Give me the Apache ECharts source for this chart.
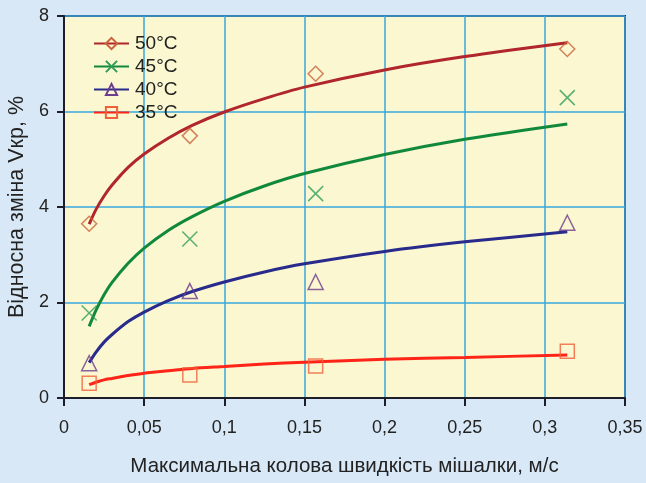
<!DOCTYPE html>
<html>
<head>
<meta charset="utf-8">
<script src="https://cdn.jsdelivr.net/npm/echarts@6/dist/echarts.min.js"></script>
<style>
  html, body { margin: 0; padding: 0; background: #d9e8f6; }
  #chart { width: 646px; height: 483px; }
</style>
</head>
<body>
<div id="chart"></div>
<script>
// measured points
const speeds = [0.0157, 0.0785, 0.157, 0.314]
const points50 = [3.65, 5.49, 6.79, 7.31]
const points45 = [1.78, 3.33, 4.28, 6.29]
const points40 = [0.73, 2.24, 2.43, 3.67]
const points35 = [0.31, 0.48, 0.67, 0.98]

// trend curves
const curveX = [0.0157, 0.02, 0.025, 0.03, 0.04, 0.05, 0.065, 0.08, 0.1, 0.125, 0.15, 0.2, 0.25, 0.314]
const curve50 = [3.64, 3.95, 4.23, 4.46, 4.83, 5.11, 5.44, 5.71, 5.99, 6.27, 6.51, 6.87, 7.15, 7.44]
const curve45 = [1.50, 1.84, 2.16, 2.42, 2.82, 3.14, 3.51, 3.80, 4.12, 4.44, 4.70, 5.10, 5.42, 5.74]
const curve40 = [0.74, 0.96, 1.17, 1.33, 1.60, 1.80, 2.04, 2.23, 2.43, 2.64, 2.81, 3.07, 3.27, 3.48]
const curve35 = [0.28, 0.33, 0.38, 0.41, 0.47, 0.52, 0.57, 0.62, 0.66, 0.71, 0.75, 0.81, 0.85, 0.90]

const names = ['50°C', '45°C', '40°C', '35°C']
const xTicks = ['0', '0,05', '0,1', '0,15', '0,2', '0,25', '0,3', '0,35']

const crossPath = 'path://M0,0L10,10M10,0L0,10'
const styles = [
  { line: '#b0262b', mark: '#c8643c', symbol: 'diamond', size: 15 },
  { line: '#11893c', mark: '#2e9c5a', symbol: crossPath, size: 15 },
  { line: '#282a8c', mark: '#6e3c8c', symbol: 'triangle', size: 15 },
  { line: '#ff2418', mark: '#f0603a', symbol: 'rect', size: 14 },
]
const points = [points50, points45, points40, points35]
const curves = [curve50, curve45, curve40, curve35]

const pair = (xs, ys) => xs.map((x, i) => [x, ys[i]])

const series = []
names.forEach((name, i) => {
  const s = styles[i]
  series.push({
    name,
    type: 'line',
    smooth: 0.3,
    data: pair(curveX, curves[i]),
    symbol: s.symbol,
    symbolSize: s.size,
    showSymbol: false,
    lineStyle: { color: s.line, width: 3 },
    itemStyle: { color: 'rgba(0,0,0,0)', borderColor: s.mark, borderWidth: 1.5 },
    z: 3,
  })
  series.push({
    type: 'scatter',
    data: pair(speeds, points[i]),
    symbol: s.symbol,
    symbolSize: s.size,
    itemStyle: { color: 'rgba(0,0,0,0)', borderColor: s.mark, borderWidth: 1.5 },
    z: 4,
  })
})

const chart = echarts.init(document.getElementById('chart'))
chart.setOption({
  backgroundColor: '#d9e8f6',
  animation: false,
  textStyle: { fontFamily: 'Liberation Sans, Arial, sans-serif' },
  grid: {
    left: 64, right: 21, top: 16, bottom: 85,
    outerBoundsMode: 'none',
    containLabel: false,
    show: true,
    backgroundColor: '#fbf7d0',
    borderColor: '#2c2b48',
    borderWidth: 2,
  },
  legend: {
    data: names,
    orient: 'vertical',
    left: 93, top: 34,
    padding: 0,
    itemWidth: 35, itemHeight: 14, itemGap: 4,
    textStyle: { fontSize: 19, color: '#222', padding: [0, 0, 0, 1] },
  },
  xAxis: {
    type: 'value',
    min: 0, max: 0.35, interval: 0.05,
    name: 'Максимальна колова швидкість мішалки, м/с',
    nameLocation: 'middle',
    nameGap: 58,
    nameTextStyle: { fontSize: 20.5, color: '#222' },
    axisLine: { lineStyle: { color: '#1e1e2a', width: 2 } },
    axisTick: { length: 8, lineStyle: { color: '#1e1e2a', width: 2 } },
    axisLabel: {
      fontSize: 18, color: '#222', margin: 21,
      formatter: (v) => xTicks[Math.round(v / 0.05)],
    },
    splitLine: { lineStyle: { color: '#3aa6dc', width: 1.5 } },
  },
  yAxis: {
    type: 'value',
    min: 0, max: 8, interval: 2,
    name: 'Відносна зміна Vкр, %',
    nameLocation: 'middle',
    nameGap: 32,
    nameTextStyle: { fontSize: 21.5, color: '#222' },
    axisLine: { lineStyle: { color: '#1e1e2a', width: 2 } },
    axisTick: { length: 7, lineStyle: { color: '#1e1e2a', width: 2 } },
    axisLabel: { fontSize: 18, color: '#222', margin: 15 },
    splitLine: { lineStyle: { color: '#3aa6dc', width: 1.5 } },
  },
  series,
})
</script>
</body>
</html>
